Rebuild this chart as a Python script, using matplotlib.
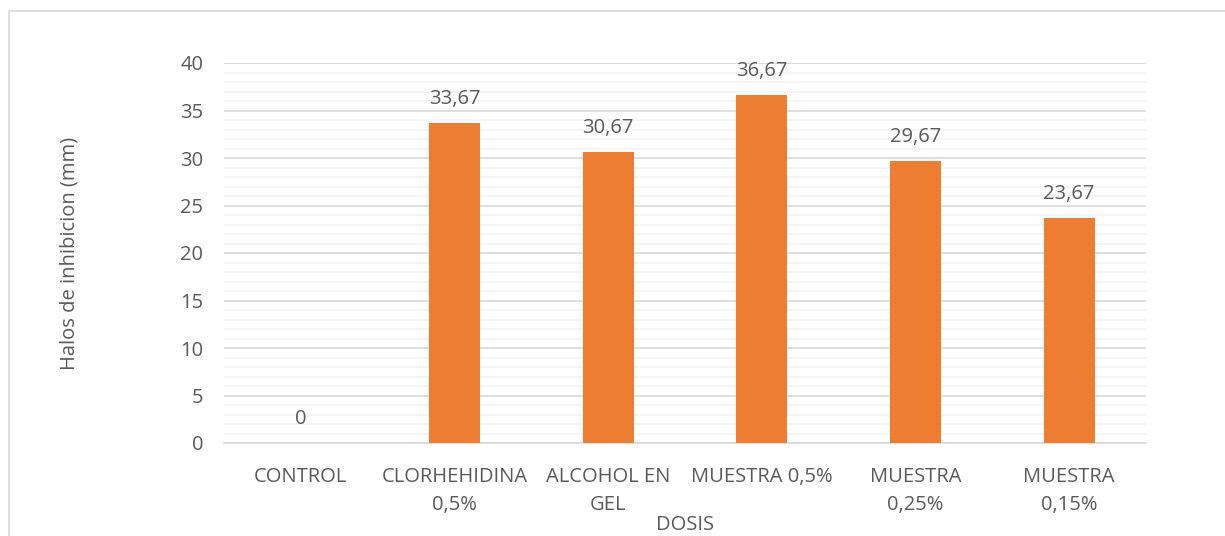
import numpy as np
import matplotlib.pyplot as plt
from matplotlib.patches import Rectangle
from matplotlib.ticker import MultipleLocator

categories = ["CONTROL", "CLORHEHIDINA\n0,5%", "ALCOHOL EN\nGEL", "MUESTRA 0,5%",
              "MUESTRA\n0,25%", "MUESTRA\n0,15%"]
values = [0, 33.67, 30.67, 36.67, 29.67, 23.67]
value_labels = ["0", "33,67", "30,67", "36,67", "29,67", "23,67"]

plt.rcParams['font.family'] = ['Open Sans', 'DejaVu Sans']
txt = "#595959"
fs = 14.5

fig = plt.figure(figsize=(12.25, 5.36), dpi=100)
W, H = 1225, 536
ax = fig.add_axes([224 / W, 1 - 443 / H, (1146 - 224) / W, (443 - 63) / H])

# chart border
fig.patches.append(Rectangle((9 / W, -0.1), 1.2, 1 - 11 / H + 0.1, transform=fig.transFigure,
                             fill=False, edgecolor="#d9d9d9", linewidth=1.2))

x = np.arange(len(categories))
ax.bar(x, values, width=0.33, color="#ED7D31", zorder=3)

for xi, v, lab in zip(x, values, value_labels):
    ax.annotate(lab, (xi, v), xytext=(0, 10), textcoords="offset points",
                ha="center", va="bottom", fontsize=fs, color=txt)

ax.set_xlim(-0.5, len(categories) - 0.5)
ax.set_ylim(0, 40)
ax.yaxis.set_major_locator(MultipleLocator(5))
ax.yaxis.set_minor_locator(MultipleLocator(1))
ax.grid(axis="y", which="major", color="#d9d9d9", linewidth=1.2, zorder=0)
ax.grid(axis="y", which="minor", color="#f2f2f2", linewidth=1.2, zorder=0)
ax.set_axisbelow(True)

for s in ["top", "right", "left"]:
    ax.spines[s].set_visible(False)
ax.spines["bottom"].set_color("#d9d9d9")
ax.spines["bottom"].set_linewidth(1.2)

ax.set_xticks(x)
ax.set_xticklabels(categories, fontsize=fs, color=txt, linespacing=1.55)
ax.tick_params(axis="both", which="both", length=0)
ax.tick_params(axis="x", pad=17)
ax.tick_params(axis="y", labelsize=fs, labelcolor=txt, pad=15)

fig.text(70 / W, 1 - 253 / H, "Halos de inhibicion (mm)", rotation=90,
         ha="center", va="center", fontsize=fs, color=txt)
fig.text(685 / W, 1 - 525 / H, "DOSIS", ha="center", va="center", fontsize=fs, color=txt)

fig.savefig("out.png", dpi=100)
